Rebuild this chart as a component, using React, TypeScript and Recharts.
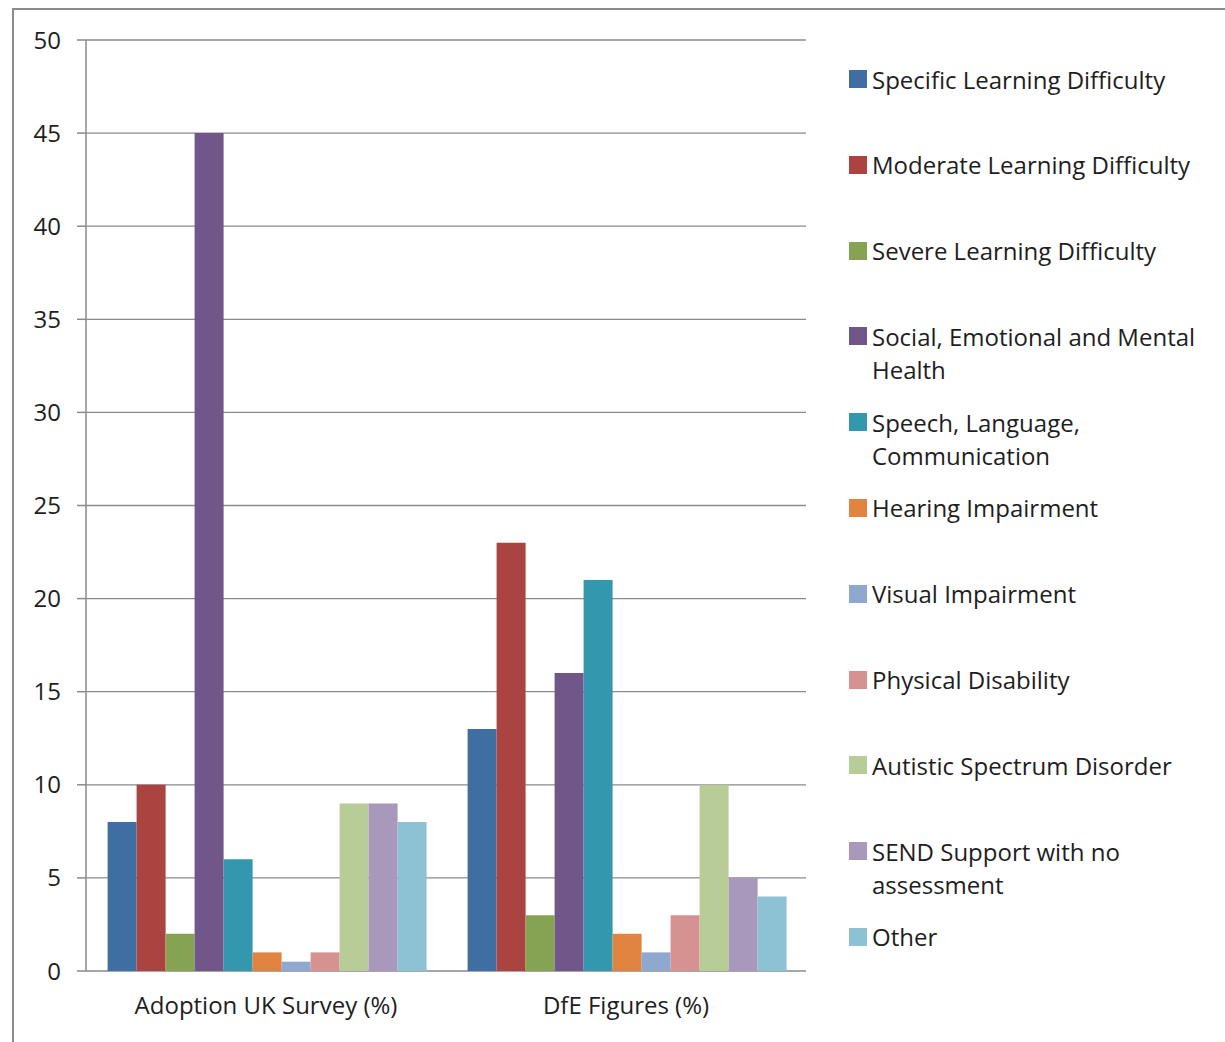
import React from "react";
import {
  BarChart,
  Bar,
  XAxis,
  YAxis,
  CartesianGrid,
  Legend,
} from "recharts";

// categories along the x axis
const categories = ["Adoption UK Survey (%)", "DfE Figures (%)"];

// one series per SEN need type
const seriesNames = [
  "Specific Learning Difficulty",
  "Moderate Learning Difficulty",
  "Severe Learning Difficulty",
  "Social, Emotional and Mental Health",
  "Speech, Language, Communication",
  "Hearing Impairment",
  "Visual Impairment",
  "Physical Disability",
  "Autistic Spectrum Disorder",
  "SEND Support with no assessment",
  "Other",
];

const adoptionValues = [8, 10, 2, 45, 6, 1, 0.5, 1, 9, 9, 8];
const dfeValues = [13, 23, 3, 16, 21, 2, 1, 3, 10, 5, 4];

const yTicks = [0, 5, 10, 15, 20, 25, 30, 35, 40, 45, 50];
const edgeTicks = [0, 1, 2];

const COLORS = [
  "#3f6ea3",
  "#ab4441",
  "#86a353",
  "#71568a",
  "#3397ae",
  "#e0843f",
  "#8fa8cf",
  "#d59290",
  "#b8cc97",
  "#a898bc",
  "#8cc2d4",
];

const valuesByCategory = [adoptionValues, dfeValues];

const data = categories.map((name, ci) => {
  const row: Record<string, string | number> = { name };
  seriesNames.forEach((s, si) => {
    row[s] = valuesByCategory[ci][si];
  });
  return row;
});

const FONT = "'Open Sans', Lato, sans-serif";
const GRID = "#8a8a8a";
const TEXT = "#1e1e1e";

// legend in series order (recharts sorts its own payload)
const LegendList = () => (
  <div style={{ fontFamily: FONT, fontSize: 24, color: TEXT }}>
    {seriesNames.map((name, i) => (
      <div
        key={`legend-${i}`}
        style={{ height: 85.8, display: "flex", alignItems: "flex-start" }}
      >
        <div
          style={{
            width: 18,
            height: 18,
            background: COLORS[i],
            marginTop: 7.5,
            marginRight: 5,
            flex: "0 0 auto",
          }}
        />
        <div style={{ lineHeight: "33px", width: 348 }}>{name}</div>
      </div>
    ))}
  </div>
);

export default function App() {
  return (
    <div
      style={{
        position: "absolute",
        left: 0,
        top: 0,
        width: 1225,
        height: 1042,
        background: "#fff",
        overflow: "hidden",
      }}
    >
      <div
        style={{
          position: "absolute",
          left: 12,
          top: 8,
          width: 1240,
          height: 1060,
          border: "2px solid #8c8c8c",
          boxSizing: "border-box",
        }}
      />
      <div style={{ position: "absolute", left: 0, top: 0 }}>
        <BarChart
          width={1225}
          height={1042}
          data={data}
          margin={{ top: 40, right: 419, left: 0, bottom: 21 }}
          barCategoryGap="6%"
          barGap={0}
        >
          <CartesianGrid vertical={false} stroke={GRID} strokeWidth={1.3} />
          <XAxis
            xAxisId="edge"
            type="number"
            domain={[0, 2]}
            ticks={edgeTicks}
            allowDataOverflow
            height={0}
            tick={false}
            tickSize={10}
            stroke={GRID}
            strokeWidth={1.5}
          />
          <XAxis
            dataKey="name"
            height={50}
            axisLine={false}
            tickLine={false}
            tickSize={0}
            tickMargin={26}
            tick={{ fontFamily: FONT, fontSize: 24, fill: TEXT }}
            interval={0}
          />
          <YAxis
            width={86}
            domain={[0, 50]}
            ticks={yTicks}
            interval={0}
            tickSize={9}
            tickMargin={16}
            stroke={GRID}
            strokeWidth={1.5}
            tick={{ fontFamily: FONT, fontSize: 24, fill: TEXT }}
          />
          <Legend
            layout="vertical"
            align="center"
            verticalAlign="middle"
            content={<LegendList />}
            wrapperStyle={{ left: 849, top: 62.5, width: 376, height: "auto" }}
          />
          {seriesNames.map((s, i) => (
            <Bar
              key={s}
              dataKey={s}
              fill={COLORS[i]}
              isAnimationActive={false}
            />
          ))}
        </BarChart>
      </div>
    </div>
  );
}
